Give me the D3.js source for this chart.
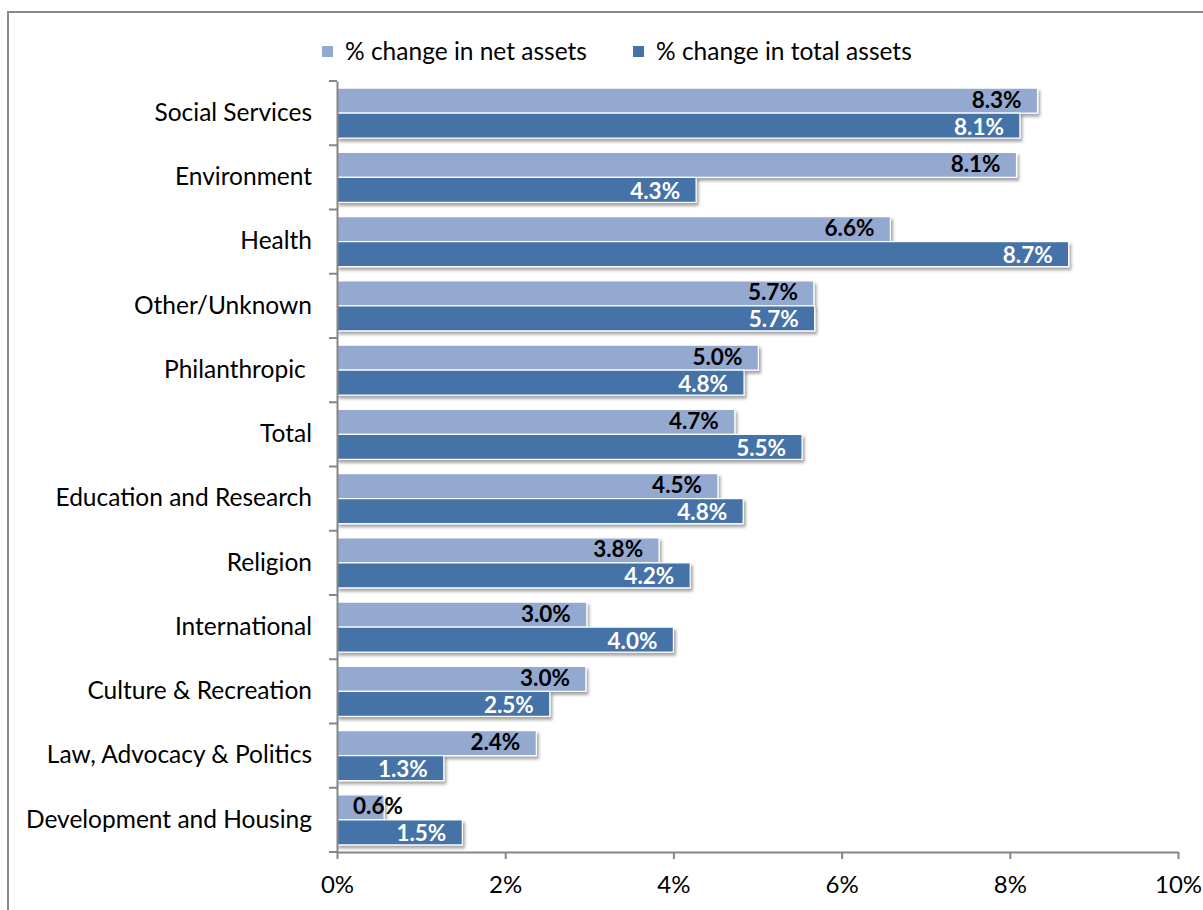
<!DOCTYPE html>
<html><head><meta charset="utf-8">
<script src="https://cdn.jsdelivr.net/npm/d3@7"></script>
<style>
html,body{margin:0;padding:0;background:#fff;}
svg{display:block;font-family:Lato,"Open Sans",sans-serif;}
</style></head>
<body>
<svg id="chart" width="1203" height="910"></svg>
<script>
const categories = ["Social Services","Environment","Health","Other/Unknown","Philanthropic ","Total","Education and Research","Religion","International","Culture & Recreation","Law, Advocacy & Politics","Development and Housing"];
const netAssets   = [8.33, 8.08, 6.58, 5.67, 5.01, 4.73, 4.53, 3.83, 2.97, 2.96, 2.37, 0.56];
const totalAssets = [8.12, 4.27, 8.70, 5.68, 4.84, 5.53, 4.83, 4.20, 4.00, 2.53, 1.27, 1.49];
const seriesNames = ["% change in net assets","% change in total assets"];
const xTicks = [0,2,4,6,8,10];

const colors = ["#94A9D0","#4572A7"];
const labelColors = ["#000","#fff"];
const svg = d3.select("#chart");

// frame
svg.append("rect").attr("x",8).attr("y",12).attr("width",1220).attr("height",920)
  .attr("fill","none").attr("stroke","#8a8a8a").attr("stroke-width",2);

const defs = svg.append("defs");
const f = defs.append("filter").attr("id","sh").attr("x","-5%").attr("y","-30%").attr("width","115%").attr("height","180%");
f.append("feDropShadow").attr("dx",2).attr("dy",3).attr("stdDeviation",1.8).attr("flood-color","#000").attr("flood-opacity",0.35);

const x = d3.scaleLinear().domain([0,10]).range([337,1178]);
const y = d3.scaleBand().domain(categories).range([81,852]);
const yi = d3.scaleBand().domain([0,1]).range([0,y.bandwidth()]).paddingInner(0).paddingOuter(0.285);

const rows = categories.map((c,i)=>({c, vals:[netAssets[i], totalAssets[i]]}));

// bars
const g = svg.append("g");
rows.forEach(r=>{
  r.vals.forEach((v,k)=>{
    g.append("rect")
      .attr("x",x(0)).attr("y",y(r.c)+yi(k))
      .attr("width",x(v)-x(0)).attr("height",yi.bandwidth())
      .attr("fill",colors[k]).attr("stroke","#fff").attr("stroke-width",1.2)
      .attr("filter","url(#sh)");
  });
});
// labels
const shift = [-1, 1];
rows.forEach(r=>{
  r.vals.forEach((v,k)=>{
    const t = svg.append("text")
      .attr("y",y(r.c)+yi(k)+yi.bandwidth()/2+shift[k])
      .attr("dy","0.36em")
      .attr("text-anchor","end")
      .attr("font-size",22.5).attr("font-weight","bold")
      .attr("fill",labelColors[k])
      .text(v.toFixed(1)+"%");
    const w = t.node().getComputedTextLength();
    t.attr("x", Math.max(x(v)-16, x(0)+16+w));
  });
});

// y axis
const yAxis = d3.axisLeft(y).tickSize(0).tickPadding(25);
const ya = svg.append("g").attr("transform",`translate(${x(0)},0)`).call(yAxis);
ya.select(".domain").attr("stroke","#868686").attr("stroke-width",2);
ya.selectAll("text").attr("font-size",24.5).attr("fill","#000").attr("font-family","Lato,'Open Sans',sans-serif").style("white-space","pre");
// boundary ticks
const bounds = categories.map(c=>y(c)).concat([y.range()[1]]);
svg.append("g").selectAll("line").data(bounds).join("line")
  .attr("x1",x(0)-8).attr("x2",x(0)).attr("y1",d=>d).attr("y2",d=>d)
  .attr("stroke","#868686").attr("stroke-width",2);

// x axis
const xAxis = d3.axisBottom(x).tickValues(xTicks).tickFormat(d=>d+"%").tickSize(7).tickPadding(17).tickSizeOuter(0);
const xa = svg.append("g").attr("transform",`translate(0,${y.range()[1]})`).call(xAxis);
xa.select(".domain").attr("stroke","#868686").attr("stroke-width",2);
xa.selectAll(".tick line").attr("stroke","#868686").attr("stroke-width",2);
xa.selectAll("text").attr("font-size",24).attr("fill","#000").attr("font-family","Lato,'Open Sans',sans-serif");

// legend
const legX = [322, 633];
seriesNames.forEach((n,k)=>{
  svg.append("rect").attr("x",legX[k]).attr("y",46).attr("width",11).attr("height",11).attr("fill",colors[k]);
  svg.append("text").attr("x",legX[k]+23).attr("y",51).attr("dy","0.36em")
    .attr("font-size",24.5).attr("fill","#000").text(n);
});
</script>
</body></html>
